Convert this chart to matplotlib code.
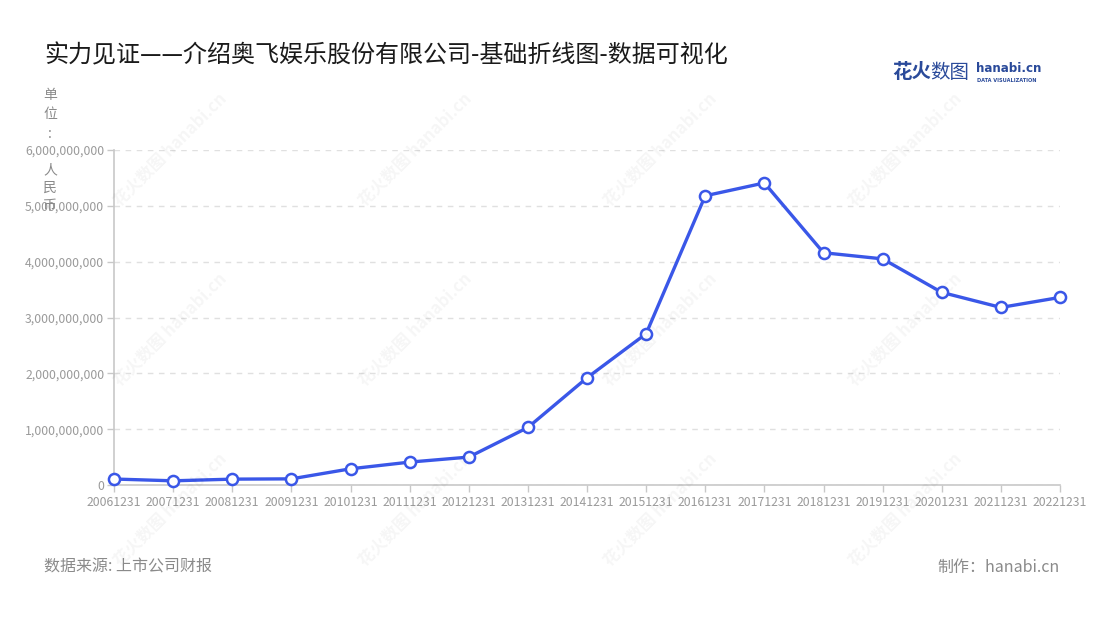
import matplotlib
matplotlib.use("Agg")
import matplotlib.pyplot as plt
from matplotlib.ticker import FuncFormatter, FixedLocator

plt.rcParams['font.family'] = ['Noto Sans CJK SC', 'DejaVu Sans']

dates = ["20061231", "20071231", "20081231", "20091231", "20101231", "20111231",
         "20121231", "20131231", "20141231", "20151231", "20161231", "20171231",
         "20181231", "20191231", "20201231", "20211231", "20221231"]
revenue = [0.107e9, 0.075e9, 0.105e9, 0.11e9, 0.29e9, 0.41e9, 0.50e9, 1.03e9,
           1.92e9, 2.71e9, 5.18e9, 5.41e9, 4.16e9, 4.05e9, 3.45e9, 3.18e9, 3.36e9]
y_ticks = [0, 1e9, 2e9, 3e9, 4e9, 5e9, 6e9]

title = "实力见证——介绍奥飞娱乐股份有限公司-基础折线图-数据可视化"
unit_label = "单位:人民币"
source = "数据来源: 上市公司财报"
maker = "制作：hanabi.cn"

W, H = 1100, 620
fig = plt.figure(figsize=(11, 6.2), dpi=100)
ax = fig.add_axes([114 / W, 1 - 485 / H, (1060 - 114) / W, (485 - 150) / H])

x = list(range(len(dates)))
line_color = "#3a57e8"
ax.plot(x, revenue, color=line_color, lw=2.4, marker="o", markersize=8,
        markerfacecolor="white", markeredgecolor=line_color, markeredgewidth=1.8,
        zorder=5, clip_on=False)

ax.set_xlim(0, len(dates) - 1)
ax.set_ylim(0, 6e9)
ax.set_xticks(x)
ax.set_xticklabels(dates)
ax.yaxis.set_major_locator(FixedLocator(y_ticks))
ax.yaxis.set_major_formatter(FuncFormatter(lambda v, p: f"{int(v):,}"))

tick_gray = "#9a9a9a"
ax.tick_params(axis="x", colors="#c8c8c8", labelcolor=tick_gray, labelsize=8.8,
               length=5, width=1, pad=3)
ax.tick_params(axis="y", colors="#c8c8c8", labelcolor=tick_gray, labelsize=8.8,
               length=5, width=1, pad=2)
for s in ["top", "right"]:
    ax.spines[s].set_visible(False)
for s in ["left", "bottom"]:
    ax.spines[s].set_color("#c8c8c8")
    ax.spines[s].set_linewidth(1.2)
ax.grid(axis="y", color="#e0e0e0", linestyle=(0, (4, 4)), lw=1)
ax.set_axisbelow(True)

# vertical unit label
unit_y = [95, 114, 134, 170, 188, 206]
for ch, yy in zip(unit_label, unit_y):
    fig.text(50 / W, 1 - yy / H, ch, ha="center", va="center",
             fontsize=10, color="#8a8a8a")

fig.text(44 / W, 1 - 55 / H, title, ha="left", va="center", fontsize=17.3,
         color="#1a1a1a", fontweight="medium")

fig.text(44 / W, 1 - 567 / H, source, ha="left", va="center", fontsize=11.5,
         color="#8a8a8a")
fig.text(1060 / W, 1 - 567 / H, maker, ha="right", va="center", fontsize=11.5,
         color="#8a8a8a")

# logo
fig.text(892 / W, 1 - 72 / H, "花火", ha="left", va="center", fontsize=14,
         color="#2a4a9a", fontweight="bold")
fig.text(930 / W, 1 - 72 / H, "数图", ha="left", va="center", fontsize=14,
         color="#2a4a9a")
fig.text(976 / W, 1 - 69 / H, "hanabi.cn", ha="left", va="center", fontsize=8.6,
         color="#2a4a9a", fontweight="bold", family=["DejaVu Sans"])
fig.text(977 / W, 1 - 80 / H, "DATA VISUALIZATION", ha="left", va="center",
         fontsize=3.6, color="#2a4a9a", fontweight="bold", family=["DejaVu Sans"])

# faint watermarks
for wx in [170, 415, 660, 905]:
    for wy in [150, 330, 510]:
        fig.text(wx / W, 1 - wy / H, "花火数图 hanabi.cn", ha="center", va="center",
                 fontsize=12, color="#000000", alpha=0.04, rotation=45,
                 fontweight="bold")

fig.savefig("out.png", dpi=100)
